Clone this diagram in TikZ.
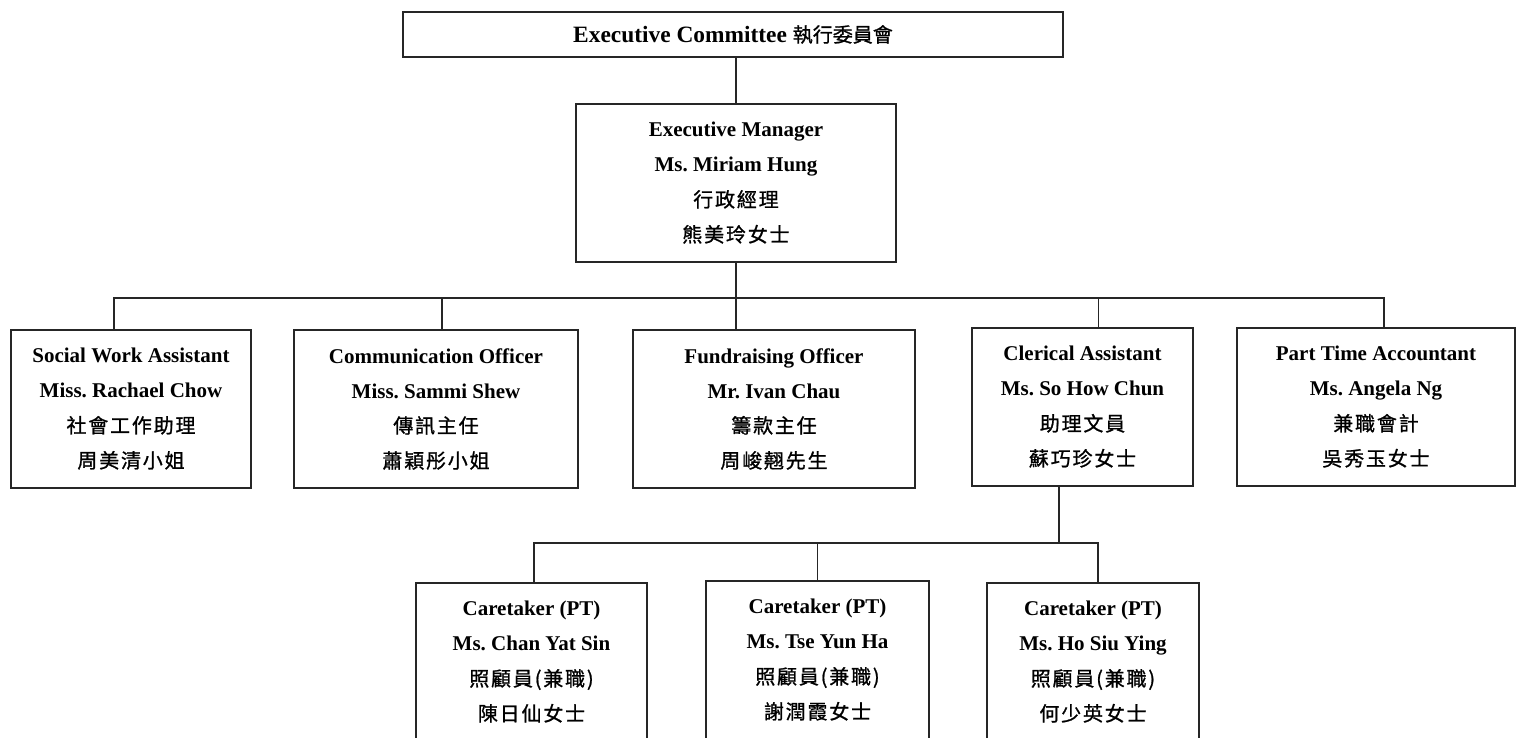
\documentclass[tikz,border=0pt]{standalone}
\usepackage{fontspec}
\setmainfont{Liberation Serif}
\newfontfamily\cjk[LetterSpace=9,FakeBold=1]{Noto Sans CJK TC}
\newfontfamily\cjktight[FakeBold=1]{Noto Sans CJK TC}
\usetikzlibrary{positioning}
\newcommand{\zh}[1]{{\cjk\mdseries\fontsize{10pt}{17.5pt}\selectfont #1}}
\frenchspacing
\tikzstyle{post} = [draw=black!85, line width=0.75pt, rectangle, align=center, inner sep=0pt,
  font={\fontsize{10.5pt}{17.5pt}\selectfont\bfseries}, minimum height=79pt]
\tikzstyle{link} = [draw=black!85, line width=0.75pt]

\begin{document}
\begin{tikzpicture}[x=0.5pt, y=-0.5pt]
\useasboundingbox (0,0) rectangle (1517,738);
\clip (0,0) rectangle (1517,738);
\fill[white] (0,0) rectangle (1517,738);

% top of the chart
\node[post, minimum width=330pt, minimum height=22.5pt,
  font={\fontsize{11.7pt}{14pt}\selectfont\bfseries}] (ec) at (733,34.5)
  {Executive Committee {\cjktight\mdseries\fontsize{10pt}{14pt}\selectfont 執行委員會}};
\node[post, minimum width=160pt] (em) at (736,183)
  {Executive Manager\\Ms. Miriam Hung\\\zh{行政經理}\\\zh{熊美玲女士}};

% second row
\node[post, minimum width=120pt] (swa) at (131,409)
  {Social Work Assistant\\Miss. Rachael Chow\\\zh{社會工作助理}\\\zh{周美清小姐}};
\node[post, minimum width=142pt] (co) at (436,409)
  {Communication Officer\\Miss. Sammi Shew\\\zh{傳訊主任}\\\zh{蕭穎彤小姐}};
\node[post, minimum width=141pt] (fo) at (774,409)
  {Fundraising Officer\\Mr. Ivan Chau\\\zh{籌款主任}\\\zh{周峻翹先生}};
\node[post, minimum width=110.5pt] (ca) at (1082.5,407)
  {Clerical Assistant\\Ms. So How Chun\\\zh{助理文員}\\\zh{蘇巧珍女士}};
\node[post, minimum width=139pt] (pta) at (1376,407)
  {Part Time Accountant\\Ms. Angela Ng\\\zh{兼職會計}\\\zh{吳秀玉女士}};

% caretakers
\node[post, minimum width=115.5pt] (ct1) at (531.5,662)
  {Caretaker (PT)\\Ms. Chan Yat Sin\\\zh{照顧員(兼職)}\\\zh{陳日仙女士}};
\node[post, minimum width=111.5pt] (ct2) at (817.5,660)
  {Caretaker (PT)\\Ms. Tse Yun Ha\\\zh{照顧員(兼職)}\\\zh{謝潤霞女士}};
\node[post, minimum width=106pt] (ct3) at (1093,662)
  {Caretaker (PT)\\Ms. Ho Siu Ying\\\zh{照顧員(兼職)}\\\zh{何少英女士}};

\coordinate (j1) at (736,298);
\coordinate (j2) at (1059,543);

\draw[link] (em.north) -- (em.north |- ec.south);
\draw[link] (em.south) -- (j1);
\draw[link] (j1) -| ([xshift=-8.5pt]swa.north);
\draw[link] (j1) -| ([xshift=3pt]co.north);
\draw[link] (j1) -| ([xshift=-19pt]fo.north);
\draw[link] (j1) -| ([xshift=8pt]ca.north);
\draw[link] (j1) -| ([xshift=4pt]pta.north);

\draw[link] (ca.south -| j2) -- (j2);
\draw[link] (j2) -| ([xshift=1.25pt]ct1.north);
\draw[link] (j2) -| (ct2.north);
\draw[link] (j2) -| ([xshift=2.5pt]ct3.north);
\end{tikzpicture}
\end{document}
